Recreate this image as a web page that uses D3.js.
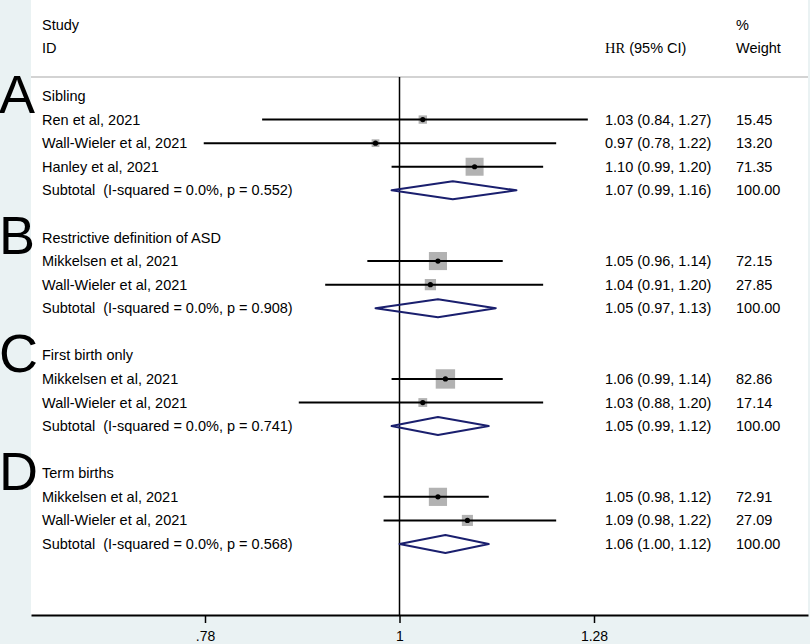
<!DOCTYPE html>
<html>
<head>
<meta charset="utf-8">
<script src="https://cdn.jsdelivr.net/npm/d3@7"></script>
<style>
  body { margin: 0; background: #eaf2f3; }
  svg { display: block; }
  text { font-family: "Liberation Sans", Arial, sans-serif; white-space: pre; }
</style>
</head>
<body>
<svg id="chart" width="810" height="644"></svg>
<script>
// subgroup panels
const panelLetters = ["A", "B", "C", "D"];
const groupNames = ["Sibling", "Restrictive definition of ASD", "First birth only", "Term births"];

// individual studies
const studyGroup = [0, 0, 0, 1, 1, 2, 2, 3, 3];
const studyNames = ["Ren et al, 2021", "Wall-Wieler et al, 2021", "Hanley et al, 2021",
    "Mikkelsen et al, 2021", "Wall-Wieler et al, 2021",
    "Mikkelsen et al, 2021", "Wall-Wieler et al, 2021",
    "Mikkelsen et al, 2021", "Wall-Wieler et al, 2021"];
const studyHR = [1.03, 0.97, 1.10, 1.05, 1.04, 1.06, 1.03, 1.05, 1.09];
const studyLo = [0.84, 0.78, 0.99, 0.96, 0.91, 0.99, 0.88, 0.98, 0.98];
const studyHi = [1.27, 1.22, 1.20, 1.14, 1.20, 1.14, 1.20, 1.12, 1.22];
const studyWeight = ["15.45", "13.20", "71.35", "72.15", "27.85", "82.86", "17.14", "72.91", "27.09"];

// pooled estimates per subgroup
const subHR = [1.07, 1.05, 1.05, 1.06];
const subLo = [0.99, 0.97, 0.99, 1.00];
const subHi = [1.16, 1.13, 1.12, 1.12];
const subI2 = ["0.0%", "0.0%", "0.0%", "0.0%"];
const subP = ["0.552", "0.908", "0.741", "0.568"];

// axis
const tickValues = [1 / 1.28, 1, 1.28];
const tickLabels = [".78", "1", "1.28"];

const fmt = d3.format(".2f");

// build the row list: header, studies, subtotal, blank
const rows = [];
groupNames.forEach((g, gi) => {
    if (gi > 0) rows.push({ type: "blank" });
    rows.push({ type: "group", label: g, letter: panelLetters[gi] });
    studyGroup.forEach((sg, i) => {
        if (sg === gi) rows.push({
            type: "study", label: studyNames[i], hr: studyHR[i], lo: studyLo[i], hi: studyHi[i],
            w: studyWeight[i]
        });
    });
    rows.push({
        type: "sub", label: `Subtotal  (I-squared = ${subI2[gi]}, p = ${subP[gi]})`,
        hr: subHR[gi], lo: subLo[gi], hi: subHi[gi], w: "100.00"
    });
});
rows.forEach((r, i) => r.i = i);

const svg = d3.select("#chart");
const plot = { left: 31, right: 808, top: 0, bottom: 615 };
const headerLine = 77;

const x = d3.scaleLog().domain([tickValues[0], tickValues[2]]).range([205, 594]);
const xAxisScale = x.copy().domain([x.invert(plot.left), x.invert(plot.right)]).range([plot.left, plot.right]);
const y = d3.scaleLinear().domain([0, rows.length - 1]).range([96, 544]);
const boxSide = d3.scaleSqrt().domain([0, 100]).range([0, 21.3]);

svg.append("rect")
    .attr("x", plot.left).attr("y", plot.top)
    .attr("width", plot.right - plot.left).attr("height", plot.bottom - plot.top)
    .attr("fill", "#fff");

// column headers
const head = svg.append("g").attr("font-size", 14.5).attr("fill", "#000");
head.append("text").attr("x", 42).attr("y", 30).text("Study");
head.append("text").attr("x", 42).attr("y", 53).text("ID");
head.append("text").attr("x", 736).attr("y", 30).text("%");
head.append("text").attr("x", 736).attr("y", 53).text("Weight");
const hrHead = head.append("text").attr("x", 605).attr("y", 53);
hrHead.append("tspan").style("font-family", "'Liberation Serif', 'Times New Roman', serif").text("HR");
hrHead.append("tspan").text(" (95% CI)");

svg.append("line")
    .attr("x1", plot.left).attr("x2", plot.right)
    .attr("y1", headerLine).attr("y2", headerLine)
    .attr("stroke", "#c4c4c4").attr("stroke-width", 1.5);

// line of no effect
svg.append("line")
    .attr("x1", x(1)).attr("x2", x(1))
    .attr("y1", headerLine).attr("y2", plot.bottom)
    .attr("stroke", "#000").attr("stroke-width", 1.5);

const studies = rows.filter(r => r.type === "study");
const subs = rows.filter(r => r.type === "sub");

svg.append("g").selectAll("rect")
    .data(studies).join("rect")
    .attr("x", d => x(d.hr) - boxSide(+d.w) / 2)
    .attr("y", d => y(d.i) - boxSide(+d.w) / 2)
    .attr("width", d => boxSide(+d.w))
    .attr("height", d => boxSide(+d.w))
    .attr("fill", "#b2b2b2");

svg.append("g").selectAll("line")
    .data(studies).join("line")
    .attr("x1", d => x(d.lo)).attr("x2", d => x(d.hi))
    .attr("y1", d => y(d.i)).attr("y2", d => y(d.i))
    .attr("stroke", "#000").attr("stroke-width", 2);

svg.append("g").selectAll("circle")
    .data(studies).join("circle")
    .attr("cx", d => x(d.hr)).attr("cy", d => y(d.i))
    .attr("r", 2.6).attr("fill", "#000");

svg.append("g").selectAll("path")
    .data(subs).join("path")
    .attr("d", d => {
        const yy = y(d.i);
        return `M${x(d.lo)},${yy}L${x(d.hr)},${yy - 9}L${x(d.hi)},${yy}L${x(d.hr)},${yy + 9}Z`;
    })
    .attr("fill", "none")
    .attr("stroke", "#1a1f6e").attr("stroke-width", 2)
    .attr("stroke-linejoin", "round");

// text columns
const labels = svg.append("g").attr("font-size", 14.5).attr("fill", "#000");
labels.selectAll("text.lab")
    .data(rows.filter(r => r.label)).join("text")
    .attr("class", "lab")
    .attr("x", 42).attr("y", d => y(d.i)).attr("dy", "0.35em")
    .text(d => d.label);

const est = rows.filter(r => r.type === "study" || r.type === "sub");
labels.selectAll("text.ci")
    .data(est).join("text")
    .attr("class", "ci")
    .attr("x", 605).attr("y", d => y(d.i)).attr("dy", "0.35em")
    .text(d => `${fmt(d.hr)} (${fmt(d.lo)}, ${fmt(d.hi)})`);

labels.selectAll("text.w")
    .data(est).join("text")
    .attr("class", "w")
    .attr("x", 736).attr("y", d => y(d.i)).attr("dy", "0.35em")
    .text(d => d.w);

// panel letters
svg.append("g").selectAll("text")
    .data(rows.filter(r => r.type === "group")).join("text")
    .attr("x", -1).attr("y", d => y(d.i) + 17)
    .attr("font-size", 54).attr("fill", "#000")
    .text(d => d.letter);

// x axis
const axis = svg.append("g")
    .attr("transform", `translate(0,${plot.bottom})`)
    .call(d3.axisBottom(xAxisScale)
        .tickValues(tickValues)
        .tickFormat((d, i) => tickLabels[i])
        .tickSize(8)
        .tickSizeOuter(0)
        .tickPadding(8));
axis.select(".domain").attr("stroke-width", 2);
axis.selectAll(".tick line").attr("stroke-width", 1.5);
axis.selectAll(".tick text")
    .attr("font-size", 14).attr("font-family", "'Liberation Sans', Arial, sans-serif");
</script>
</body>
</html>
